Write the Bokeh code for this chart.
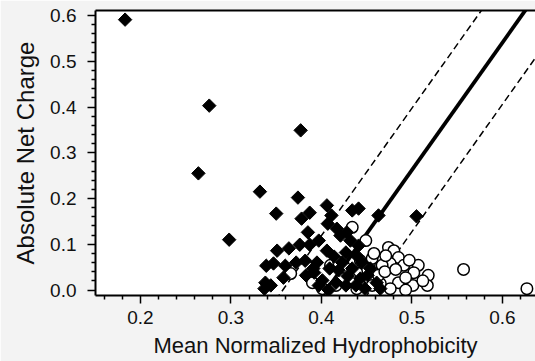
import numpy as np
from bokeh.plotting import figure
from bokeh.models import Range1d, FixedTicker, LinearAxis
from bokeh.embed import file_html
from bokeh.resources import INLINE

# Disordered proteins (filled diamonds): hydrophobicity, net charge
dis_h = [0.183, 0.276, 0.264, 0.377, 0.332, 0.298, 0.337, 0.374, 0.406, 0.434,
         0.441, 0.350, 0.378, 0.387, 0.411, 0.463, 0.505, 0.385, 0.407, 0.417,
         0.428, 0.351, 0.364, 0.376, 0.387, 0.397, 0.421, 0.432, 0.406, 0.414,
         0.427, 0.441, 0.339, 0.372, 0.395, 0.358, 0.344, 0.360, 0.383, 0.397,
         0.401, 0.408, 0.419, 0.434, 0.445, 0.451, 0.461, 0.465, 0.427, 0.438,
         0.443, 0.454, 0.429, 0.416, 0.448, 0.439, 0.423, 0.409, 0.392, 0.338,
         0.347, 0.382, 0.391]
dis_r = [0.591, 0.403, 0.255, 0.349, 0.215, 0.110, 0.003, 0.202, 0.185, 0.174,
         0.178, 0.167, 0.156, 0.169, 0.163, 0.163, 0.161, 0.126, 0.145, 0.134,
         0.126, 0.086, 0.091, 0.099, 0.099, 0.108, 0.119, 0.108, 0.086, 0.073,
         0.082, 0.097, 0.053, 0.060, 0.060, 0.027, 0.010, 0.053, 0.032, 0.010,
         0.021, 0.000, 0.043, 0.047, 0.060, 0.032, 0.016, 0.003, 0.010, 0.010,
         0.025, 0.047, 0.030, 0.016, 0.003, 0.075, 0.060, 0.047, 0.038, 0.016,
         0.058, 0.064, 0.047]

# Ordered proteins (open circles)
ord_h = [0.627, 0.557, 0.474, 0.480, 0.485, 0.476, 0.491, 0.507, 0.502, 0.518,
         0.517, 0.501, 0.485, 0.476, 0.493, 0.465, 0.467, 0.453, 0.443, 0.410,
         0.463, 0.456, 0.448, 0.439, 0.432, 0.443, 0.456, 0.427, 0.419, 0.416,
         0.401, 0.390, 0.366, 0.434, 0.449, 0.423, 0.439, 0.493, 0.470, 0.497,
         0.512, 0.482, 0.458, 0.471]
ord_r = [0.003, 0.045, 0.093, 0.086, 0.071, 0.058, 0.054, 0.054, 0.038, 0.032,
         0.010, 0.010, 0.016, 0.003, 0.027, 0.014, 0.054, 0.058, 0.064, 0.054,
         0.032, 0.069, 0.047, 0.038, 0.025, 0.010, 0.010, 0.047, 0.060, 0.010,
         0.003, 0.016, 0.036, 0.137, 0.108, 0.025, 0.003, 0.000, 0.040, 0.065,
         0.020, 0.045, 0.080, 0.075]

# Boundary line R = slope*H + intercept, with dashed lines offset in R
boundary_slope = 2.785
boundary_intercept = -1.13
dash_offset = 0.135
line_h = [0.3, 0.75]

x_ticks = [0.2, 0.3, 0.4, 0.5, 0.6]
x_labels = ["0.2", "0.3", "0.4", "0.5", "0.6"]
x_minor = [0.16, 0.18, 0.22, 0.24, 0.26, 0.28, 0.32, 0.34, 0.36, 0.38,
           0.42, 0.44, 0.46, 0.48, 0.52, 0.54, 0.56, 0.58, 0.62]
y_ticks = [0.0, 0.1, 0.2, 0.3, 0.4, 0.5, 0.6]
y_labels = ["0.0", "0.1", "0.2", "0.3", "0.4", "0.5", "0.6"]
y_minor = [0.02, 0.04, 0.06, 0.08, 0.12, 0.14, 0.16, 0.18, 0.22, 0.24, 0.26, 0.28,
           0.32, 0.34, 0.36, 0.38, 0.42, 0.44, 0.46, 0.48, 0.52, 0.54, 0.56, 0.58]
x_title = "Mean Normalized Hydrophobicity"
y_title = "Absolute Net Charge"

FONT = "Liberation Sans"

p = figure(width=535, height=361, output_backend="svg", toolbar_location=None,
           x_range=Range1d(0.1503, 0.6365), y_range=Range1d(-0.012, 0.611),
           min_border_left=95, min_border_right=0, min_border_top=10,
           min_border_bottom=66)
p.background_fill_color = "white"
p.border_fill_color = "#f3f3f3"
p.outline_line_color = None
p.xgrid.visible = False
p.ygrid.visible = False

lh = np.array(line_h)
p.line(lh, boundary_slope * lh + boundary_intercept, line_color="black", line_width=3.8)
p.line(lh, boundary_slope * lh + boundary_intercept + dash_offset, line_color="black",
       line_width=1.5, line_dash="7 4")
p.line(lh, boundary_slope * lh + boundary_intercept - dash_offset, line_color="black",
       line_width=1.5, line_dash="7 4")

p.scatter(ord_h, ord_r, marker="circle", size=11.5, fill_color="white",
          line_color="black", line_width=1.5)
p.scatter(dis_h, dis_r, marker="square", angle=np.pi / 4, size=9.5,
          fill_color="black", line_color="black", line_width=1)

for ax, ticks, labels, minor in ((p.xaxis[0], x_ticks, x_labels, x_minor),
                                 (p.yaxis[0], y_ticks, y_labels, y_minor)):
    ax.ticker = FixedTicker(ticks=ticks, minor_ticks=minor)
    ax.major_label_overrides = {t: l for t, l in zip(ticks, labels)}
    ax.axis_line_width = 2
    ax.axis_line_color = "black"
    ax.major_tick_line_width = 1.5
    ax.minor_tick_line_width = 1.5
    ax.major_tick_in = 0
    ax.major_tick_out = 8
    ax.minor_tick_in = 0
    ax.minor_tick_out = 4
    ax.major_label_text_font = FONT
    ax.major_label_text_font_size = "19px"
    ax.major_label_text_color = "#111111"
    ax.axis_label_text_font = FONT
    ax.axis_label_text_font_style = "normal"
    ax.axis_label_text_color = "#111111"

p.xaxis.axis_label = x_title
p.yaxis.axis_label = y_title
p.xaxis.axis_label_text_font_size = "22px"
p.yaxis.axis_label_text_font_size = "24px"
p.xaxis.major_label_standoff = 7
p.yaxis.major_label_standoff = 11
p.xaxis.axis_label_standoff = 6
p.yaxis.axis_label_standoff = 8

top = LinearAxis(ticker=FixedTicker(ticks=[]), axis_line_width=2,
                 axis_line_color="black", major_label_text_font_size="0px",
                 major_tick_line_color=None, minor_tick_line_color=None)
p.add_layout(top, "above")

open("out.html", "w").write(file_html(p, INLINE))
